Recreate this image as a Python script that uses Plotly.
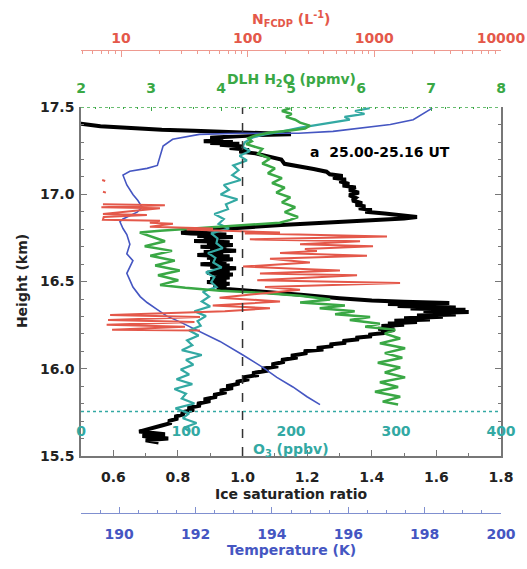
import plotly.graph_objects as go

# ---------------- data ----------------
# Ice saturation ratio (black) vs height (km)
ice_ratio = [0.40, 0.50, 0.56, 0.65, 0.75, 0.85, 0.95, 1.05, 1.12, 1.15, 1.05, 0.98, 0.90, 0.94, 0.88,
             0.97, 0.90, 0.99, 0.93, 1.00, 0.96, 1.02, 0.99, 1.04, 1.08, 1.12, 1.13, 1.18, 1.22, 1.26,
             1.27, 1.31, 1.28, 1.32, 1.30, 1.33, 1.31, 1.35, 1.33, 1.36, 1.33, 1.35, 1.34, 1.37, 1.35,
             1.38, 1.36, 1.40, 1.38, 1.44, 1.50, 1.54, 1.50, 1.42, 1.32, 1.22, 1.12, 1.02, 0.92, 0.84,
             0.81,
             0.84, 0.95, 0.86, 0.97, 0.88, 0.93, 0.85, 0.96, 0.89, 0.97, 0.87, 0.95, 0.90, 0.98, 0.88,
             0.94, 0.86, 0.96, 0.89, 0.97, 0.90, 0.95, 0.87, 0.96, 0.90, 0.98, 0.91, 0.96, 0.89, 0.97,
             0.91, 0.96, 0.90, 0.95, 0.89, 0.96, 0.91, 0.95, 0.92, 0.97,
             1.05, 1.18, 1.30, 1.40, 1.50, 1.60, 1.64, 1.45, 1.62, 1.48, 1.66, 1.52, 1.69, 1.56, 1.70,
             1.58, 1.66, 1.54, 1.62, 1.50, 1.58, 1.47, 1.54, 1.45, 1.50, 1.43, 1.47, 1.42,
             1.47, 1.43, 1.44, 1.39, 1.40, 1.35, 1.36, 1.31, 1.32, 1.27, 1.28, 1.23, 1.25, 1.19, 1.20,
             1.15, 1.17, 1.12, 1.13, 1.09, 1.11, 1.06, 1.08, 1.03, 1.05, 1.00, 1.02, 0.98, 0.99, 0.95,
             0.97, 0.93, 0.95, 0.91, 0.92, 0.88, 0.90, 0.86, 0.87, 0.83, 0.85, 0.81, 0.82, 0.79, 0.80,
             0.77, 0.78, 0.75, 0.73, 0.71, 0.68, 0.76, 0.69, 0.77, 0.70, 0.74]
ice_height = [17.415, 17.405, 17.39, 17.378, 17.37, 17.365, 17.36, 17.355, 17.35, 17.345, 17.34, 17.335,
              17.325, 17.315, 17.305, 17.30, 17.295, 17.29, 17.285, 17.275, 17.265, 17.255, 17.245,
              17.235, 17.22, 17.20, 17.175, 17.16, 17.145, 17.13, 17.115, 17.105, 17.095, 17.085,
              17.075, 17.06, 17.05, 17.04, 17.025, 17.01, 16.995, 16.98, 16.965, 16.95, 16.94, 16.93,
              16.92, 16.91, 16.90, 16.89, 16.88, 16.87, 16.862, 16.855, 16.845, 16.835, 16.825,
              16.812, 16.80, 16.79, 16.78,
              16.775, 16.77, 16.762, 16.755, 16.748, 16.74, 16.733, 16.725, 16.718, 16.71, 16.70,
              16.692, 16.685, 16.677, 16.67, 16.66, 16.652, 16.645, 16.636, 16.628, 16.62, 16.61,
              16.60, 16.592, 16.585, 16.577, 16.568, 16.56, 16.55, 16.54, 16.532, 16.523, 16.515,
              16.505, 16.497, 16.488, 16.48, 16.47, 16.462, 16.455,
              16.445, 16.425, 16.405, 16.392, 16.385, 16.38, 16.377, 16.372, 16.366, 16.36, 16.352,
              16.346, 16.338, 16.332, 16.326, 16.32, 16.312, 16.305, 16.298, 16.29, 16.283, 16.275,
              16.268, 16.26, 16.252, 16.245, 16.238, 16.23,
              16.222, 16.214, 16.205, 16.196, 16.187, 16.178, 16.169, 16.16, 16.15, 16.14, 16.13,
              16.12, 16.11, 16.10, 16.09, 16.075, 16.065, 16.05, 16.04, 16.025, 16.015, 16.0, 15.99,
              15.975, 15.965, 15.95, 15.94, 15.925, 15.915, 15.9, 15.89, 15.875, 15.865, 15.85,
              15.84, 15.825, 15.815, 15.8, 15.79, 15.775, 15.765, 15.75, 15.74, 15.725, 15.715,
              15.7, 15.69, 15.675, 15.665, 15.65, 15.64, 15.625, 15.615, 15.60, 15.59, 15.578,
              15.565, 15.555, 15.545, 15.54, 15.535, 15.53, 15.525, 15.52]

# Temperature (K, blue) vs height
temperature = [198.2, 198.0, 197.7, 197.1, 196.5, 195.6, 194.7, 193.2, 192.1, 191.8, 191.4, 191.15,
               191.07, 191.0, 190.73, 190.28, 190.1, 190.2, 190.36, 190.49, 190.6, 190.47, 190.1,
               190.02, 190.1, 190.2, 190.28, 190.2, 190.36, 190.28, 190.2, 190.28, 190.36, 190.55,
               190.73, 190.99, 191.25, 191.59, 192.12, 192.64, 193.24, 193.77, 194.13, 194.55,
               194.92, 195.26]
temp_height = [17.494, 17.467, 17.428, 17.40, 17.383, 17.361, 17.35, 17.35, 17.344, 17.333, 17.316,
               17.277, 17.221, 17.166, 17.149, 17.132, 17.11, 17.054, 16.999, 16.965, 16.926,
               16.898, 16.859, 16.843, 16.804, 16.77, 16.714, 16.659, 16.62, 16.581, 16.547, 16.508,
               16.469, 16.414, 16.38, 16.341, 16.302, 16.269, 16.213, 16.157, 16.079, 16.007,
               15.951, 15.896, 15.84, 15.795]

# Ozone (ppbv, cyan) vs height
ozone = [275, 261, 270, 251, 256, 237, 225, 209, 192, 175, 164, 156, 154, 161,
         151, 158, 145, 150, 144, 152, 136, 141, 133, 149, 138, 140, 127, 136, 131, 141, 124, 130,
         129, 135, 121, 128, 126, 134, 119, 127, 124, 129, 116, 122, 115, 123, 108, 119, 111, 114,
         103, 112, 101, 106, 96, 115, 100, 107, 95, 103, 91, 106, 89, 100, 96, 108, 90, 103, 97,
         110, 98, 104]
ozone_height = [17.494, 17.478, 17.461, 17.444, 17.428, 17.411, 17.40, 17.383, 17.361, 17.344,
                17.327, 17.299, 17.272, 17.249, 17.221, 17.194, 17.166, 17.138, 17.11, 17.082,
                17.054, 17.026, 16.999, 16.971, 16.943, 16.915, 16.887, 16.859, 16.831, 16.804,
                16.776, 16.748, 16.72, 16.692, 16.664, 16.636, 16.609, 16.581, 16.553, 16.525,
                16.497, 16.469, 16.442, 16.414, 16.386, 16.358, 16.33, 16.302, 16.274, 16.247,
                16.219, 16.191, 16.163, 16.135, 16.107, 16.079, 16.052, 16.024, 15.996, 15.968,
                15.94, 15.912, 15.884, 15.857, 15.829, 15.801, 15.773, 15.745, 15.717, 15.689,
                15.662, 15.639]

# DLH water vapour (ppmv, green) vs height
h2o = [4.99, 4.87, 5.01, 4.93, 5.06, 5.13, 5.27, 5.20, 4.99, 4.70, 4.49, 4.39, 4.44, 4.36, 4.59,
       4.53, 4.70, 4.59, 4.77, 4.67, 4.87, 4.73, 4.91, 4.79, 4.99, 4.87, 5.06, 4.91, 5.10, 4.99,
       4.84, 4.41, 3.99, 3.56, 3.13, 2.84, 2.99, 3.20, 2.91, 3.30, 2.99, 3.34, 3.06, 3.41, 3.10,
       3.39, 3.13, 3.49, 3.99, 4.56, 5.13, 5.56, 5.13, 5.77, 5.41, 5.91, 5.63, 6.13, 5.84, 6.27,
       6.06, 6.49, 6.34, 6.56, 6.27, 6.63, 6.34, 6.59, 6.24, 6.56, 6.34, 6.63, 6.27, 6.53, 6.20,
       6.56, 6.31, 6.53]
h2o_height = [17.494, 17.478, 17.461, 17.444, 17.428, 17.411, 17.394, 17.377, 17.366, 17.355,
              17.338, 17.322, 17.305, 17.288, 17.26, 17.233, 17.205, 17.177, 17.149, 17.121,
              17.093, 17.065, 17.038, 17.01, 16.982, 16.954, 16.926, 16.898, 16.87, 16.854,
              16.837, 16.826, 16.815, 16.804, 16.792, 16.781, 16.759, 16.731, 16.703, 16.676,
              16.648, 16.62, 16.592, 16.564, 16.536, 16.508, 16.481, 16.464, 16.447, 16.436,
              16.419, 16.397, 16.38, 16.363, 16.347, 16.33, 16.313, 16.297, 16.28, 16.258,
              16.241, 16.224, 16.202, 16.174, 16.146, 16.118, 16.09, 16.063, 16.035, 16.007,
              15.979, 15.951, 15.923, 15.896, 15.868, 15.84, 15.812, 15.795]

# FCDP particle number (L^-1, red) vs height  (None = gap)
n_fcdp = [7.1, 7.5, None, 7.2, 7.6, None,
          7.2, 22.2, 7.0, 20.3, 7.2, 16.0, 7.3, 7.2, 20.3, 16.9, 25.7, 16.9, 53.2, 33, 180, 95,
          1259, 104, 771, 259, 976, 283, 352, 180, 875, 150, 310, 92, 535, 125, 730, 119, 1596,
          137, 259, 60, 180, 53, 150, 66, 8.2, 42, 7.9, 38, 7.7, 32, 8.5, 42]
n_height = [17.082, 17.077, None, 17.015, 17.01, None,
            16.943, 16.937, 16.926, 16.92, 16.887, 16.882, 16.87, 16.854, 16.848, 16.837, 16.831,
            16.815, 16.804, 16.798, 16.781, 16.776, 16.759, 16.742, 16.731, 16.714, 16.703,
            16.687, 16.676, 16.664, 16.648, 16.631, 16.609, 16.586, 16.564, 16.547, 16.536,
            16.508, 16.492, 16.469, 16.453, 16.408, 16.386, 16.363, 16.347, 16.33, 16.308,
            16.297, 16.28, 16.269, 16.252, 16.241, 16.224, 16.219]

ozone_axis_height = 15.756
saturation_line = 1.0
n_ticks = [10, 100, 1000, 10000]
n_ticktext = ["10", "100", "1000", "10000"]
label_text = "a  25.00-25.16 UT"

# ---------------- styling ----------------
FONT = "DejaVu Sans"
RED = "#e4584a"
GREEN = "#3aa845"
CYAN = "#33a9a3"
BLUE = "#4556c2"
GRAY = "#777777"
W, H = 527, 569
L, R = 81, 26


def py(px):
    """pixel row -> paper fraction (t=b=0 margins)"""
    return (H - px) / H


def tf(color, size=14):
    return dict(family=FONT, size=size, color=color, weight="bold")


fig = go.Figure()
fig.add_trace(go.Scatter(x=ozone, y=ozone_height, xaxis="x3", yaxis="y", mode="lines",
                         line=dict(color=CYAN, width=2.2), hoverinfo="skip"))
fig.add_trace(go.Scatter(x=ice_ratio, y=ice_height, xaxis="x", yaxis="y", mode="lines",
                         line=dict(color="black", width=4), hoverinfo="skip"))
fig.add_trace(go.Scatter(x=h2o, y=h2o_height, xaxis="x4", yaxis="y", mode="lines",
                         line=dict(color=GREEN, width=2.5), hoverinfo="skip"))
fig.add_trace(go.Scatter(x=n_fcdp, y=n_height, xaxis="x5", yaxis="y", mode="lines",
                         connectgaps=False, line=dict(color=RED, width=2), hoverinfo="skip"))
fig.add_trace(go.Scatter(x=temperature, y=temp_height, xaxis="x2", yaxis="y", mode="lines",
                         line=dict(color=BLUE, width=1.6), hoverinfo="skip"))

common = dict(showgrid=False, zeroline=False)
ydom = [py(461), py(102)]

fig.update_layout(
    width=W, height=H,
    margin=dict(l=L, r=R, t=0, b=0),
    paper_bgcolor="white", plot_bgcolor="white",
    showlegend=False,
    font=dict(family=FONT, size=14, color="black"),
    yaxis=dict(domain=ydom, range=[15.5, 17.5], dtick=0.5, tick0=15.5, tickformat=".1f",
               ticks="inside", ticklen=6, tickcolor=GRAY, showline=True, linecolor=GRAY,
               linewidth=1.5, mirror="ticks",
               minor=dict(ticks="inside", ticklen=3, dtick=0.1, tickcolor=GRAY),
               tickfont=tf("#222222"), ticklabelstandoff=2, **common),
    xaxis=dict(domain=[0, 1], anchor="y", side="bottom", range=[0.5, 1.8], tick0=0.6, dtick=0.2,
               tickformat=".1f", ticks="inside", ticklen=6, tickcolor=GRAY, showline=True,
               linecolor=GRAY, linewidth=1.5,
               minor=dict(ticks="inside", ticklen=3, dtick=0.1, tickcolor=GRAY),
               tickfont=tf("#222222"), ticklabelstandoff=7, **common),
    xaxis2=dict(overlaying="x", anchor="free", position=py(520), side="bottom", range=[189, 200],
                tick0=190, dtick=2, ticks="inside", ticklen=6, tickcolor="#8090d0",
                showline=True, linecolor="#8090d0", linewidth=1,
                minor=dict(ticks="inside", ticklen=3, dtick=0.5, tickcolor="#8090d0"),
                tickfont=tf(BLUE), ticklabelstandoff=8, **common),
    xaxis3=dict(overlaying="x", anchor="free", position=py(415), side="bottom", range=[0, 400],
                tick0=0, dtick=100, ticks="", showline=False,
                tickfont=tf(CYAN), ticklabelstandoff=10, **common),
    xaxis4=dict(overlaying="x", anchor="y", side="top", range=[2, 8], tick0=2, dtick=1,
                ticks="inside", ticklen=4, tickcolor=GREEN, showline=False,
                minor=dict(ticks="inside", ticklen=2, dtick=0.2, tickcolor=GREEN),
                tickfont=tf(GREEN), ticklabelstandoff=10, **common),
    xaxis5=dict(overlaying="x", anchor="free", position=py(43), side="top", type="log",
                range=[0.684, 4.0], tickmode="array", tickvals=n_ticks, ticktext=n_ticktext,
                ticks="inside", ticklen=6, tickcolor="#ee9a90", showline=True,
                linecolor="#ee9a90", linewidth=1,
                minor=dict(ticks="inside", ticklen=3, dtick="D1", tickcolor="#ee9a90"),
                tickfont=tf(RED), ticklabelstandoff=1, **common),
)

# reference lines (dashed saturation, dotted O3 axis, dotted green frame top)
fig.add_shape(type="line", xref="x", yref="y", x0=saturation_line, x1=saturation_line,
              y0=15.5, y1=17.5, line=dict(color="#333333", width=1.5, dash="dash"))
fig.add_shape(type="line", xref="paper", yref="y", x0=0, x1=1, y0=ozone_axis_height,
              y1=ozone_axis_height, line=dict(color=CYAN, width=1.5, dash="dot"))
fig.add_shape(type="line", xref="paper", yref="y", x0=0, x1=1, y0=17.5, y1=17.5,
              line=dict(color=GREEN, width=1.5, dash="dot"))

ann = [
    dict(text="N<sub>FCDP</sub> (L<sup>-1</sup>)", x=0.5, y=py(11), color=RED),
    dict(text="DLH H<sub>2</sub>O (ppmv)", x=0.5, y=py(74), color=GREEN),
    dict(text="O<sub>3</sub> (ppbv)", x=0.5, y=py(455), color=CYAN),
    dict(text="Ice saturation ratio", x=0.5, y=py(500), color="#222222"),
    dict(text="Temperature (K)", x=0.5, y=py(558), color=BLUE),
]
for a in ann:
    fig.add_annotation(text=a["text"], x=a["x"], y=a["y"], xref="paper", yref="paper",
                       showarrow=False, xanchor="center", yanchor="middle",
                       font=dict(family=FONT, size=14, color=a["color"], weight="bold"))
fig.add_annotation(text="Height (km)", x=(22 - L) / (W - L - R), y=py(281), xref="paper",
                   yref="paper", textangle=-90, showarrow=False, xanchor="center",
                   yanchor="middle", font=dict(family=FONT, size=14, color="#222222",
                                               weight="bold"))
fig.add_annotation(text=label_text, x=(380 - L) / (W - L - R), y=py(148), xref="paper",
                   yref="paper", showarrow=False, xanchor="center", yanchor="middle",
                   font=dict(family=FONT, size=14, color="black", weight="bold"))

fig.write_html("out.html")
